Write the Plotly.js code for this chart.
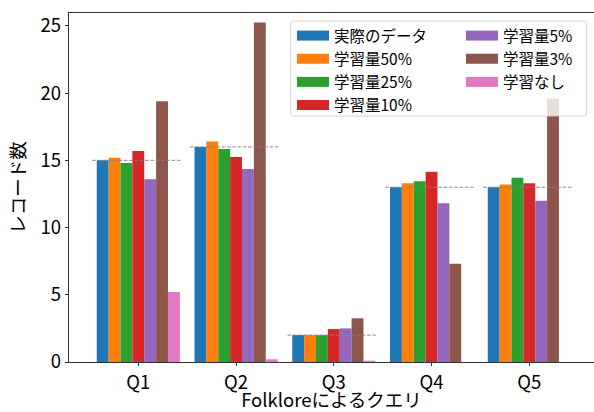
<!DOCTYPE html>
<html>
<head>
<meta charset="utf-8">
<script src="https://cdn.plot.ly/plotly-3.0.1.min.js"></script>
<style>
  html, body { margin: 0; padding: 0; background: #fff; }
  #chart { width: 594px; height: 412px; }
</style>
</head>
<body>
<div id="chart"></div>
<script>
// ---- data ----
var categories = ["Q1", "Q2", "Q3", "Q4", "Q5"];
var seriesNames = ["実際のデータ", "学習量50%", "学習量25%", "学習量10%", "学習量5%", "学習量3%", "学習なし"];
var actual   = [15.0, 16.0, 2.0, 13.0, 13.0];
var learn50  = [15.2, 16.4, 2.0, 13.3, 13.2];
var learn25  = [14.8, 15.85, 2.0, 13.45, 13.7];
var learn10  = [15.7, 15.25, 2.45, 14.15, 13.3];
var learn5   = [13.6, 14.35, 2.5, 11.8, 12.0];
var learn3   = [19.4, 25.25, 3.25, 7.3, 19.6];
var noLearn  = [5.2, 0.2, 0.1, 0.0, 0.0];
var yTicks   = [0, 5, 10, 15, 20, 25];

// ---- styles ----
var colors = ["#1f77b4", "#ff7f0e", "#2ca02c", "#d62728", "#9467bd", "#8c564b", "#e377c2"];
var seriesValues = [actual, learn50, learn25, learn10, learn5, learn3, noLearn];
var FONT = "'Noto Sans CJK JP', 'Noto Sans', sans-serif";
var AXIS_FS = 18.5, LEGEND_FS = 15.5;
var refLeft = -0.473, refRight = 0.432;   // extent of the dashed reference lines around each category

var xIdx = categories.map(function (_, i) { return i; });
var traces = [];

seriesValues.forEach(function (vals, s) {
  traces.push({
    type: "bar",
    x: xIdx,
    y: vals,
    name: seriesNames[s],
    marker: { color: colors[s], line: { width: 0 } },
    showlegend: false,
    hoverinfo: "x+y+name"
  });
});

// dashed reference lines at the actual values
var rx = [], ry = [];
actual.forEach(function (v, i) {
  rx.push(i + refLeft, i + refRight, null);
  ry.push(v, v, null);
});
traces.push({
  type: "scatter",
  mode: "lines",
  x: rx,
  y: ry,
  line: { color: "rgba(128,128,128,0.9)", width: 1, dash: "3.7px,1.6px" },
  showlegend: false,
  hoverinfo: "skip"
});

// legend entries (wide patch symbols)
seriesNames.forEach(function (nm, s) {
  traces.push({
    type: "scatter",
    mode: "lines",
    x: [null],
    y: [null],
    name: nm,
    line: { color: colors[s], width: 10 },
    showlegend: true,
    legend: s < 4 ? "legend" : "legend2",
    hoverinfo: "skip"
  });
});

var plotL = 69, plotT = 13, plotW = 525, plotH = 348.7;
function px2x(p) { return (p - plotL) / plotW; }
function px2y(p) { return 1 - (p - plotT) / plotH; }

var fx0 = px2x(290.7), fx1 = px2x(586.7), fy0 = px2y(116), fy1 = px2y(21);
var rX = 3 / plotW, rY = 3 / plotH;
var framePath = "M" + (fx0 + rX) + "," + fy1 +
  " L" + (fx1 - rX) + "," + fy1 +
  " Q" + fx1 + "," + fy1 + " " + fx1 + "," + (fy1 - rY) +
  " L" + fx1 + "," + (fy0 + rY) +
  " Q" + fx1 + "," + fy0 + " " + (fx1 - rX) + "," + fy0 +
  " L" + (fx0 + rX) + "," + fy0 +
  " Q" + fx0 + "," + fy0 + " " + fx0 + "," + (fy0 + rY) +
  " L" + fx0 + "," + (fy1 - rY) +
  " Q" + fx0 + "," + fy1 + " " + (fx0 + rX) + "," + fy1 + " Z";

var legendCommon = {
  bgcolor: "rgba(0,0,0,0)",
  borderwidth: 0,
  font: { family: FONT, size: LEGEND_FS, color: "#000" },
  itemwidth: 32,
  xanchor: "left",
  yanchor: "top",
  xref: "paper",
  yref: "paper"
};

var layout = {
  width: 594,
  height: 412,
  margin: { l: plotL, r: 0, t: plotT, b: 50, pad: 0 },
  paper_bgcolor: "#fff",
  plot_bgcolor: "#fff",
  font: { family: FONT, size: AXIS_FS, color: "#000" },
  barmode: "group",
  bargap: 0.15,
  bargroupgap: 0,
  showlegend: true,
  legend: Object.assign({}, legendCommon, { x: px2x(292), y: px2y(19) }),
  legend2: Object.assign({}, legendCommon, { x: px2x(461), y: px2y(19) }),
  shapes: [{
    type: "path",
    xref: "paper",
    yref: "paper",
    path: framePath,
    fillcolor: "rgba(255,255,255,0.8)",
    line: { color: "rgba(204,204,204,0.8)", width: 1 },
    layer: "above"
  }],
  xaxis: {
    type: "linear",
    range: [-0.709, 4.662],
    tickvals: xIdx,
    ticktext: categories,
    ticks: "outside",
    ticklen: 3.5,
    tickwidth: 0.8,
    tickcolor: "#000",
    showline: true,
    linecolor: "#000",
    linewidth: 0.8,
    mirror: true,
    showgrid: false,
    zeroline: false,
    tickfont: { family: FONT, size: AXIS_FS, color: "#000" },
    title: { text: "Folkloreによるクエリ", font: { family: FONT, size: AXIS_FS, color: "#000" }, standoff: 4 },
    automargin: false
  },
  yaxis: {
    range: [0, 25.96],
    tickvals: yTicks,
    ticks: "outside",
    ticklen: 3.5,
    tickwidth: 0.8,
    tickcolor: "#000",
    showline: true,
    linecolor: "#000",
    linewidth: 0.8,
    showgrid: false,
    zeroline: false,
    tickfont: { family: FONT, size: AXIS_FS, color: "#000" },
    title: { text: "レコード数", font: { family: FONT, size: AXIS_FS, color: "#000" }, standoff: 9 },
    automargin: false
  }
};

Plotly.newPlot("chart", traces, layout, { displayModeBar: false, staticPlot: true });
</script>
</body>
</html>
